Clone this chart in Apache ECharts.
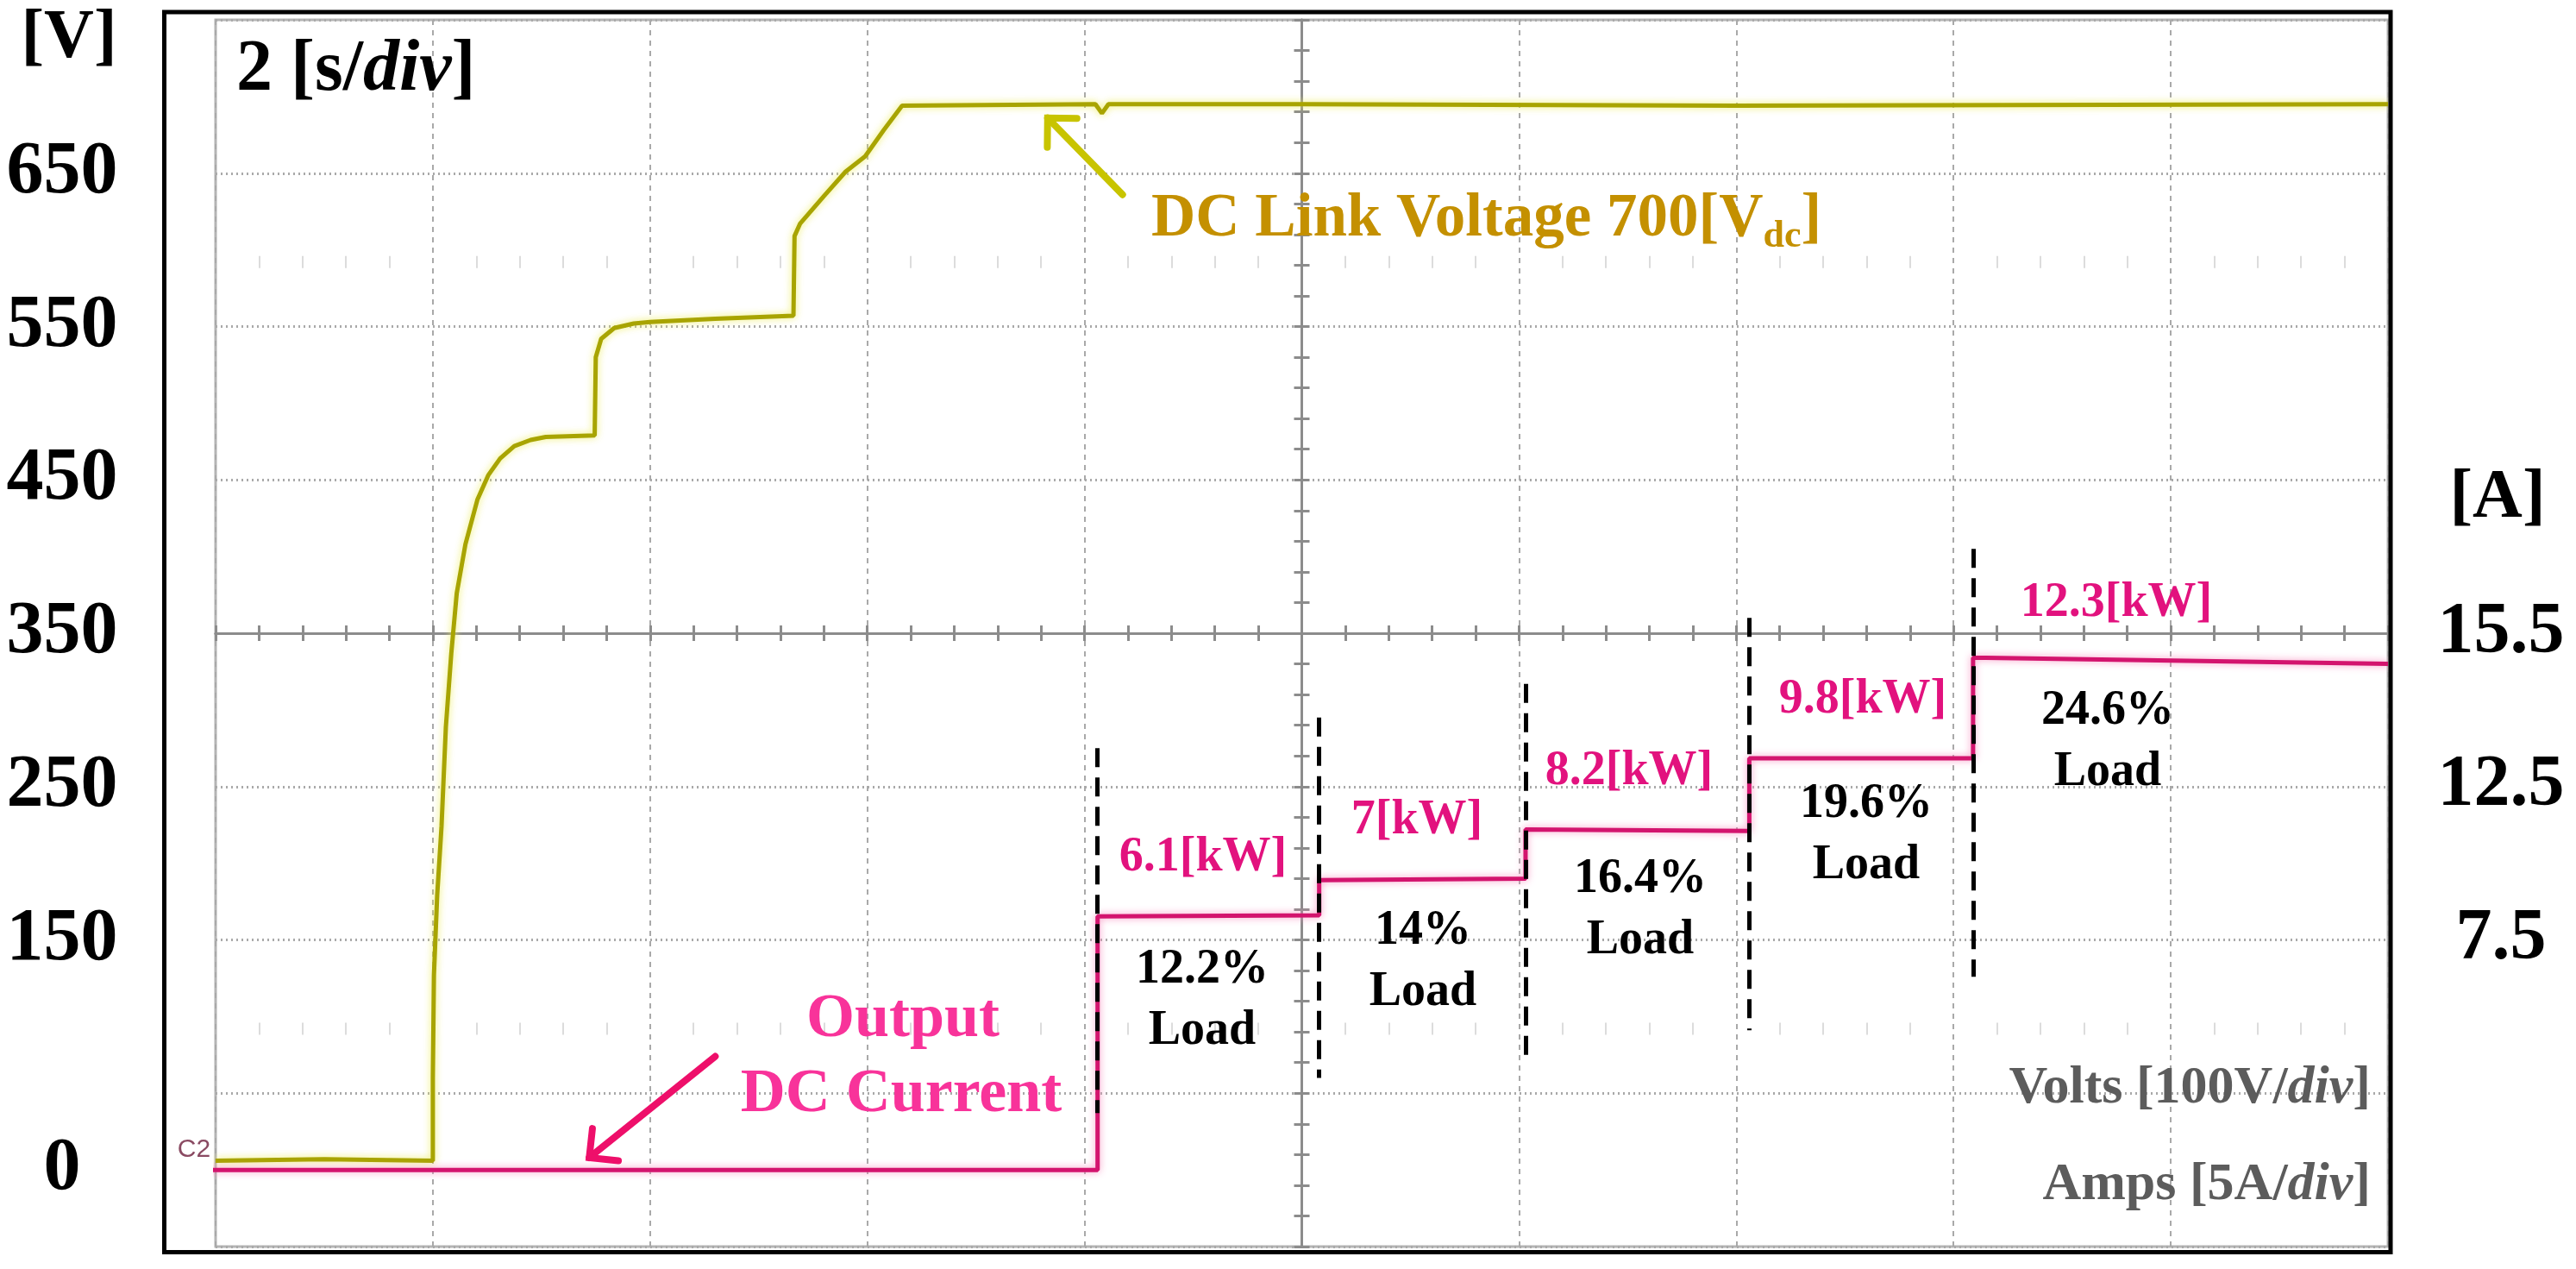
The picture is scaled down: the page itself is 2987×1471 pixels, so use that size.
<!DOCTYPE html>
<html>
<head>
<meta charset="utf-8">
<script src="https://cdn.jsdelivr.net/npm/echarts@6/dist/echarts.min.js"></script>
<style>
html,body{margin:0;padding:0;background:#fff;}
#chart{width:2987px;height:1471px;}
</style>
</head>
<body>
<div id="chart"></div>
<script>
// DC link voltage trace, time [s] / volts
const voltTime  = [0, 1.0, 2.0, 2.0, 2.01, 2.04, 2.08, 2.12, 2.17, 2.22, 2.30, 2.41, 2.51, 2.62, 2.75, 2.90, 3.04, 3.49,
                   3.50, 3.55, 3.67, 3.85, 4.0, 4.6, 5.32, 5.33, 5.38, 5.6, 5.8, 5.98, 6.15, 6.32, 8.10, 8.16, 8.22, 10, 14, 20];
const voltValue = [6, 7, 6, 60, 127, 179, 224, 289, 337, 376, 408, 437, 453, 464, 472, 476, 478, 479,
                   530, 542, 549, 552, 553, 555, 557, 609, 617, 635, 651, 661, 678, 694, 695, 689, 695, 695, 694, 695];
// output DC current trace, time [s] / amps
const ampTime  = [-0.26, 8.12, 8.12, 10.16, 10.16, 12.06, 12.06, 14.12, 14.12, 16.18, 16.18, 16.3, 20];
const ampValue = [0, 0, 8.27, 8.3, 9.45, 9.5, 11.1, 11.05, 13.42, 13.42, 16.7, 16.7, 16.5];

// tick labels
const voltTickValues = [0, 150, 250, 350, 450, 550, 650];
const ampTickValues = [7.5, 12.5, 17.5];
const ampTickLabels = ['7.5', '12.5', '15.5'];

// load steps
const stepTime = [8.12, 10.16, 12.06, 14.12, 16.18];
const stepPower = ['6.1[kW]', '7[kW]', '8.2[kW]', '9.8[kW]', '12.3[kW]'];
const stepLoad = ['12.2%', '14%', '16.4%', '19.6%', '24.6%'];
const stepMarkTop = [13.75, 14.75, 15.85, 18.0, 20.25];   // amps
const stepMarkBottom = [1.85, 3.0, 3.45, 4.55, 6.3];

// arrows (time, volts)
const voltArrow = {tail: [8.35, 636], tip: [7.66, 686]};
const ampArrow = {tail: [4.60, 74], tip: [3.44, 8]};

// faint scope marker rows (volts)
const markerRows = [100, 600];

const SERIF = '"Liberation Serif","Times New Roman",serif';
const GL = 250, GT = 23, GR = 218, GB = 26;
const W = 2987 - GL - GR, H = 1471 - GT - GB;
const GRIDC = '#a9a9a9', CENTERC = '#8c8c8c';

function centerX(inside) {
  return {
    type: 'value', position: 'bottom', offset: -H / 2, min: 0, max: 20, interval: 2,
    axisLine: {show: true, onZero: false, lineStyle: {color: CENTERC, width: 3}},
    axisTick: {show: true, inside: inside, length: 9, lineStyle: {color: CENTERC, width: 3}},
    minorTick: {show: true, splitNumber: 5, length: 9, lineStyle: {color: CENTERC, width: 3}},
    axisLabel: {show: false}, splitLine: {show: false}
  };
}
function centerY(inside) {
  return {
    type: 'value', position: 'left', offset: -W / 2, min: -50, max: 750, interval: 100,
    axisLine: {show: true, onZero: false, lineStyle: {color: CENTERC, width: 3}},
    axisTick: {show: true, inside: inside, length: 9, lineStyle: {color: CENTERC, width: 3}},
    minorTick: {show: true, splitNumber: 5, length: 9, lineStyle: {color: CENTERC, width: 3}},
    axisLabel: {show: false}, splitLine: {show: false}
  };
}
function markerRow(v) {
  return {
    type: 'value', position: 'bottom', offset: -((v + 50) / 800 * H) + 7, min: 0, max: 20, interval: 2,
    axisLine: {show: false, onZero: false},
    axisTick: {show: false},
    minorTick: {show: true, splitNumber: 5, length: 14, lineStyle: {color: '#dcdcdc', width: 2}},
    axisLabel: {show: false}, splitLine: {show: false}
  };
}

const chart = echarts.init(document.getElementById('chart'));
chart.setOption({
  animation: false,
  backgroundColor: '#fff',
  grid: {left: GL, top: GT, right: GR, bottom: GB, show: true, borderColor: '#b4b4b4', borderWidth: 3,
         containLabel: false, outerBoundsMode: 'none'},
  xAxis: [
    {
      type: 'value', min: 0, max: 20, interval: 2,
      axisLine: {show: false, onZero: false}, axisTick: {show: false}, axisLabel: {show: false},
      splitLine: {show: true, lineStyle: {color: GRIDC, width: 2, type: [6, 6]}}
    },
    centerX(false), centerX(true)
  ].concat(markerRows.map(markerRow)),
  yAxis: [
    {
      type: 'value', position: 'left', min: -50, max: 750, interval: 100,
      axisLine: {show: false, onZero: false}, axisTick: {show: false},
      splitLine: {show: true, lineStyle: {color: GRIDC, width: 3, type: [2, 4]}},
      axisLabel: {
        customValues: voltTickValues, margin: 178, align: 'center', verticalAlign: 'middle',
        fontSize: 86, fontWeight: 'bold', fontFamily: SERIF, color: '#000'
      }
    },
    {
      type: 'value', position: 'right', min: -2.5, max: 37.5, interval: 5,
      axisLine: {show: false, onZero: false}, axisTick: {show: false}, splitLine: {show: false},
      axisLabel: {
        customValues: ampTickValues, formatter: v => ampTickLabels[ampTickValues.indexOf(v)],
        margin: 131, align: 'center', verticalAlign: 'middle',
        fontSize: 84, fontWeight: 'bold', fontFamily: SERIF, color: '#000'
      }
    },
    centerY(false), centerY(true)
  ],
  series: [
    {
      name: 'DC Link Voltage', type: 'line', xAxisIndex: 0, yAxisIndex: 0,
      data: voltTime.map((t, i) => [t, voltValue[i]]),
      showSymbol: false, symbol: 'none', z: 3,
      lineStyle: {color: '#a8a400', width: 5, shadowColor: 'rgba(236,236,90,0.9)', shadowBlur: 8}
    },
    {
      name: 'Output DC Current', type: 'line', xAxisIndex: 0, yAxisIndex: 1,
      data: ampTime.map((t, i) => [t, ampValue[i]]),
      showSymbol: false, symbol: 'none', clip: false, z: 4,
      lineStyle: {color: '#d3146e', width: 5, shadowColor: 'rgba(248,140,190,0.9)', shadowBlur: 8},
      markLine: {
        silent: true, symbol: ['none', 'none'], label: {show: false}, z: 6,
        lineStyle: {color: '#000', width: 5, type: [22, 12]},
        data: stepTime.map((t, i) => [{coord: [t, stepMarkTop[i]]}, {coord: [t, stepMarkBottom[i]]}])
      }
    }
  ]
});

// ---- annotations ----
function txt(x, y, text, size, color, align, extra) {
  return {
    type: 'text', x: x, y: y, z: 20,
    style: Object.assign({
      text: text, fontSize: size, fontFamily: SERIF, fontWeight: 'bold', fill: color,
      align: align, textAlign: align, verticalAlign: 'middle', textVerticalAlign: 'middle'
    }, extra || {})
  };
}
function italicRich(size, color) {
  return {i: {fontStyle: 'italic', fontWeight: 'bold', fontSize: size, fontFamily: SERIF, fill: color}};
}
const measureCtx = document.createElement('canvas').getContext('2d');
function textWidth(str, size) {
  measureCtx.font = 'bold ' + size + 'px ' + SERIF;
  return measureCtx.measureText(str).width;
}
function arrow(a, color) {
  const p0 = chart.convertToPixel({xAxisIndex: 0, yAxisIndex: 0}, a.tail);
  const p1 = chart.convertToPixel({xAxisIndex: 0, yAxisIndex: 0}, a.tip);
  const ang = Math.atan2(p0[1] - p1[1], p0[0] - p1[0]);
  const len = 34, spread = Math.PI / 4;
  const a1 = [p1[0] + len * Math.cos(ang + spread), p1[1] + len * Math.sin(ang + spread)];
  const a2 = [p1[0] + len * Math.cos(ang - spread), p1[1] + len * Math.sin(ang - spread)];
  return [
    {type: 'polyline', z: 20, shape: {points: [p0, p1]}, style: {stroke: color, lineWidth: 8, lineCap: 'round', fill: null}},
    {type: 'polyline', z: 20, shape: {points: [a1, p1, a2]}, style: {stroke: color, lineWidth: 8, lineCap: 'round', lineJoin: 'miter', fill: null}}
  ];
}

const pink = '#e2127e', black = '#000', gray = '#5c5c5c';
const powerPos = [[1395, 995], [1643, 952], [1889, 895], [2160, 812], [2454, 700]];
const loadPos = [[1394, 1125], [1650, 1080], [1902, 1020], [2164, 933], [2444, 825]];
const LOAD_GAP = 71;

const g = [];
g.push({type: 'rect', z: 15, shape: {x: 190.5, y: 14, width: 2581.5, height: 1437.5},
        style: {fill: null, stroke: '#000', lineWidth: 5}});
g.push(txt(80, 45, '[V]', 80, black, 'center'));
g.push(txt(2896, 578, '[A]', 80, black, 'center'));
g.push(txt(274, 82, '2 [s/{i|div}]', 84, black, 'left', {rich: italicRich(84, black)}));

// DC link voltage label with subscript
const dcMain = 'DC Link Voltage 700[V';
const dcX = 1335, dcY = 255, dcSize = 71, dcSub = 44, dcColor = '#c49000';
const w1 = textWidth(dcMain, dcSize), w2 = textWidth('dc', dcSub);
g.push(txt(dcX, dcY, dcMain, dcSize, dcColor, 'left'));
g.push(txt(dcX + w1, dcY + 20, 'dc', dcSub, dcColor, 'left'));
g.push(txt(dcX + w1 + w2, dcY, ']', dcSize, dcColor, 'left'));

g.push(txt(1047, 1182, 'Output', 72, '#f8339a', 'center'));
g.push(txt(1045, 1269, 'DC Current', 72, '#f8339a', 'center'));

stepPower.forEach((s, i) => g.push(txt(powerPos[i][0], powerPos[i][1], s, 56, pink, 'center')));
stepLoad.forEach((s, i) => {
  g.push(txt(loadPos[i][0], loadPos[i][1], s, 56, black, 'center'));
  g.push(txt(loadPos[i][0], loadPos[i][1] + LOAD_GAP, 'Load', 56, black, 'center'));
});

g.push(txt(2749, 1262, 'Volts [100V/{i|div}]', 62, gray, 'right', {rich: italicRich(62, gray)}));
g.push(txt(2749, 1374, 'Amps [5A/{i|div}]', 62, gray, 'right', {rich: italicRich(62, gray)}));
g.push(txt(225, 1333, 'C2', 30, '#8a4a62', 'center', {fontFamily: '"Liberation Sans",sans-serif', fontWeight: 'normal'}));

arrow(voltArrow, '#c8c400').forEach(e => g.push(e));
arrow(ampArrow, '#ee0f6a').forEach(e => g.push(e));

chart.setOption({graphic: {elements: g}});
</script>
</body>
</html>
